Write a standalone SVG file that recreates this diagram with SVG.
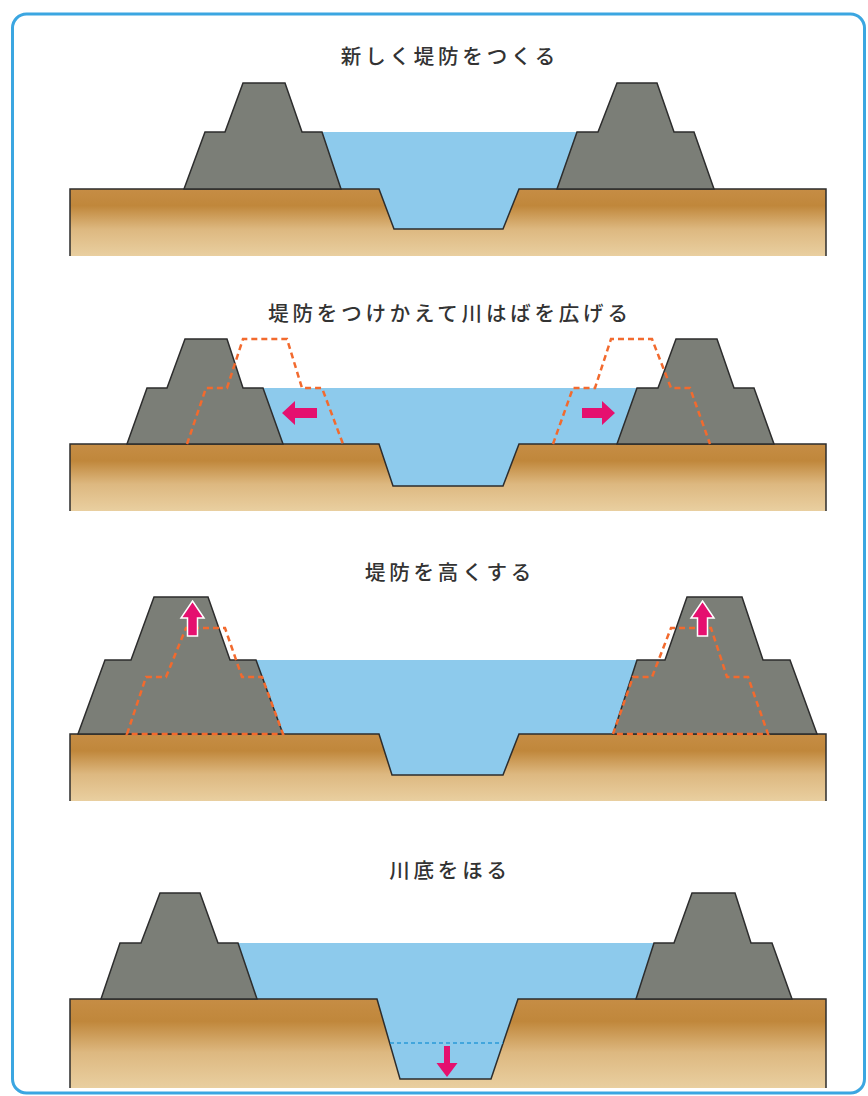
<svg xmlns="http://www.w3.org/2000/svg" width="868" height="1096" viewBox="0 0 868 1096">
  <style>
    .frame { fill: #ffffff; stroke: #3ba6e1; stroke-width: 3; }
    .title { font-family: "Noto Sans CJK JP", "Noto Sans", sans-serif; font-size: 20.5px; font-weight: 500; fill: #333333; letter-spacing: 3.8px; text-anchor: middle; }
    .water { fill: #8dcaec; }
    .soil { fill: url(#soilGrad); }
    .edge { fill: none; stroke: #2d2d2d; stroke-width: 1.5; stroke-linejoin: miter; }
    .dike { fill: #7b7e77; stroke: #2d2d2d; stroke-width: 1.5; stroke-linejoin: miter; }
    .old { fill: none; stroke: #f26a2e; stroke-width: 2.5; stroke-dasharray: 6 4; }
    .oldbed { fill: none; stroke: #2a9ad8; stroke-width: 1.6; stroke-dasharray: 4 3; }
    .push { fill: #e5106f; }
    .lift { fill: #e5106f; stroke: #ffffff; stroke-width: 1.5; stroke-linejoin: miter; }
  </style>
  <defs>
    <linearGradient id="soilGrad" x1="0" y1="0" x2="0" y2="1">
      <stop offset="0" stop-color="#c68d45"/>
      <stop offset="0.25" stop-color="#c0873b"/>
      <stop offset="0.6" stop-color="#ddb880"/>
      <stop offset="1" stop-color="#e9cfa0"/>
    </linearGradient>
  </defs>

  <!-- outer frame -->
  <rect class="frame" x="12.5" y="14" width="852" height="1079" rx="14"/>

  <!-- 1: new levees -->
  <g id="panel-new">
    <text class="title" x="450" y="64">新しく堤防をつくる</text>
    <polygon class="water" points="310,132 590,132 590,189 519,189 503,229 394,229 379,189 310,189"/>
    <polygon class="soil" points="70,189 379,189 394,229 503,229 519,189 826,189 826,256 70,256"/>
    <polyline class="edge" points="70,256 70,189 379,189 394,229 503,229 519,189 826,189 826,256"/>
    <g id="levee-new-left"><polygon class="dike" points="184,189 205,132 225,132 243,83 285,83 302,132 322,132 341,189"/></g>
    <g id="levee-new-right"><polygon class="dike" points="557,189 577,132 598,132 617,83 657,83 674,132 694,132 714,189"/></g>
  </g>

  <!-- 2: levees moved outward to widen the river -->
  <g id="panel-widen">
    <text class="title" x="450" y="321">堤防をつけかえて川はばを広げる</text>
    <polygon class="water" points="255,388 645,388 645,444 519,444 503,486 393,486 379,444 255,444"/>
    <polygon class="soil" points="70,444 379,444 393,486 503,486 519,444 826,444 826,511 70,511"/>
    <polyline class="edge" points="70,511 70,444 379,444 393,486 503,486 519,444 826,444 826,511"/>
    <g id="levee-widen-left"><polygon class="dike" points="127,444 147,388 167,388 185,339 227,339 243,388 263,388 283,444"/></g>
    <g id="levee-widen-right"><polygon class="dike" points="617,444 637,388 658,388 676,339 717,339 734,388 754,388 774,444"/></g>
    <g id="connectors-widen">
      <polyline class="old" points="187,444 206,388 227,388 243,339 287,339 302,388 322,388 343,444"/>
      <polyline class="old" points="553,444 573,388 595,388 611,339 652,339 671,388 690,388 710,444"/>
      <polygon class="push" points="282,413 295,401 295,408 317,408 317,418 295,418 295,425"/>
      <polygon class="push" points="615,413 602,401 602,408 582,408 582,418 602,418 602,425"/>
    </g>
  </g>

  <!-- 3: raised levees -->
  <g id="panel-raise">
    <text class="title" x="450" y="580">堤防を高くする</text>
    <polygon class="water" points="250,660 645,660 645,734 519,734 503,775 392,775 379,734 250,734"/>
    <polygon class="soil" points="70,734 379,734 392,775 503,775 519,734 826,734 826,801 70,801"/>
    <polyline class="edge" points="70,801 70,734 379,734 392,775 503,775 519,734 826,734 826,801"/>
    <g id="levee-raise-left"><polygon class="dike" points="78,734 105,660 131,660 154,597 208,597 230,660 256,660 283,734"/></g>
    <g id="levee-raise-right"><polygon class="dike" points="613,734 637,660 665,660 687,597 742,597 763,660 790,660 817,734"/></g>
    <g id="connectors-raise">
      <polygon class="old" points="127,734 146,677 166,677 186,628 225,628 242,677 262,677 283,734"/>
      <polygon class="old" points="613,734 633,677 652,677 671,628 711,628 727,677 748,677 768,734"/>
      <polygon class="lift" points="192.5,601 204,618 197.5,618 197.5,636 187.5,636 187.5,618 181,618"/>
      <polygon class="lift" points="702.5,601 714,618 707.5,618 707.5,636 697.5,636 697.5,618 691,618"/>
    </g>
  </g>

  <!-- 4: dredged riverbed -->
  <g id="panel-dredge">
    <text class="title" x="450" y="878">川底をほる</text>
    <polygon class="water" points="230,943 660,943 660,999 518,999 491,1079 400,1079 377,999 230,999"/>
    <polygon class="soil" points="70,999 377,999 400,1079 491,1079 518,999 826,999 826,1088 70,1088"/>
    <polyline class="edge" points="70,1088 70,999 377,999 400,1079 491,1079 518,999 826,999 826,1088"/>
    <g id="levee-dredge-left"><polygon class="dike" points="101,999 120,943 141,943 160,893 200,893 218,943 238,943 257,999"/></g>
    <g id="levee-dredge-right"><polygon class="dike" points="636,999 654,943 674,943 692,893 735,893 751,943 772,943 792,999"/></g>
    <g id="connectors-dredge">
      <line class="oldbed" x1="390" y1="1043" x2="503" y2="1043"/>
      <polygon class="push" points="444,1046 450,1046 450,1063 457.5,1063 447,1077 436.5,1063 444,1063"/>
    </g>
  </g>
</svg>
